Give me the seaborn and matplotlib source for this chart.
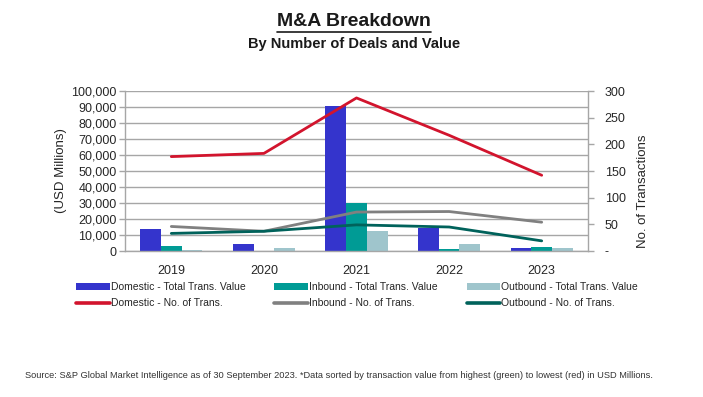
"""M&A breakdown: deal value bars (left axis) and deal counts (right axis)."""

import matplotlib
matplotlib.use("Agg")
import matplotlib.pyplot as plt
import matplotlib.ticker as mticker
from matplotlib.lines import Line2D
import numpy as np
import pandas as pd
import seaborn as sns

YEARS = ["2019", "2020", "2021", "2022", "2023"]
VALUE_SERIES = [
    "Domestic - Total Trans. Value",
    "Inbound - Total Trans. Value",
    "Outbound - Total Trans. Value",
]
COUNT_SERIES = [
    "Domestic - No. of Trans.",
    "Inbound - No. of Trans.",
    "Outbound - No. of Trans.",
]

# USD millions
DOMESTIC_VALUE = [13600, 4600, 90500, 14100, 2000]
INBOUND_VALUE = [3400, 0, 29800, 1100, 2300]
OUTBOUND_VALUE = [500, 1900, 12600, 4400, 1700]

# number of transactions
DOMESTIC_COUNT = [177, 183, 287, 217, 142]
INBOUND_COUNT = [46, 37, 73, 74, 54]
OUTBOUND_COUNT = [33, 37, 49, 45, 19]

BAR_COLOURS = ["#3434CC", "#009B95", "#9FC5CC"]
LINE_COLOURS = ["#D2142D", "#808080", "#00625B"]
GRID = "#A6A6A6"

sns.set_style("white")
plt.rcParams["font.family"] = ["Liberation Sans", "DejaVu Sans"]

values = pd.DataFrame({
    "year": YEARS * 3,
    "series": np.repeat(VALUE_SERIES, len(YEARS)),
    "value": DOMESTIC_VALUE + INBOUND_VALUE + OUTBOUND_VALUE,
})
counts = pd.DataFrame({
    "pos": list(range(len(YEARS))) * 3,
    "series": np.repeat(COUNT_SERIES, len(YEARS)),
    "count": DOMESTIC_COUNT + INBOUND_COUNT + OUTBOUND_COUNT,
})

fig = plt.figure(figsize=(7.03, 3.97), dpi=100)
ax = fig.add_axes([125 / 703, 1 - 251 / 397, (588 - 125) / 703, 160 / 397])

sns.barplot(data=values, x="year", y="value", hue="series", hue_order=VALUE_SERIES,
            palette=BAR_COLOURS, width=0.67, gap=0, saturation=1, ax=ax,
            edgecolor="none", linewidth=0, zorder=2)
ax.set_ylim(0, 100000)
ax.set_xlim(-0.5, len(YEARS) - 0.5)
ax.set_yticks(np.arange(0, 100001, 10000))
ax.yaxis.set_major_formatter(mticker.FuncFormatter(lambda v, _: f"{v:,.0f}"))
ax.yaxis.grid(True, color=GRID, lw=1.0)
ax.set_axisbelow(True)

# category boundaries get the tick marks, centres get the labels
ax.set_xticks(np.arange(-0.5, len(YEARS), 1.0))
ax.set_xticklabels([])
ax.set_xticks(np.arange(len(YEARS)), minor=True)
ax.set_xticklabels(YEARS, minor=True)
ax.tick_params(axis="x", which="major", length=5, color=GRID, width=1)
ax.tick_params(axis="x", which="minor", length=0, pad=10, labelsize=9)
ax.tick_params(axis="y", length=4, color=GRID, width=1, labelsize=9, pad=2)
ax.set_xlabel("")
ax.set_ylabel("(USD Millions)", fontsize=9.5, labelpad=3)

for side in ["top", "right"]:
    ax.spines[side].set_visible(False)
for side in ["left", "bottom"]:
    ax.spines[side].set_color(GRID)
    ax.spines[side].set_linewidth(1)

ax2 = ax.twinx()
sns.lineplot(data=counts, x="pos", y="count", hue="series", hue_order=COUNT_SERIES,
             palette=LINE_COLOURS, lw=2.0, ax=ax2)
ax2.set_ylim(0, 300)
ax2.set_xlim(-0.5, len(YEARS) - 0.5)
ax2.set_yticks(np.arange(0, 301, 50))
ax2.yaxis.set_major_formatter(mticker.FuncFormatter(lambda v, _: "-" if v == 0 else f"{v:.0f}"))
ax2.tick_params(axis="y", length=4, color=GRID, width=1, labelsize=9, pad=8)
ax2.set_ylabel("No. of Transactions", fontsize=9.5)
ax2.yaxis.set_label_coords(1.105, 0.375)
for side in ["top", "left", "bottom"]:
    ax2.spines[side].set_visible(False)
ax2.spines["right"].set_color(GRID)
ax2.spines["right"].set_linewidth(1)

bar_handles, bar_labels = ax.get_legend_handles_labels()
ax.get_legend().remove()
ax2.get_legend().remove()
line_handles = [Line2D([], [], color=c, lw=2.6) for c in LINE_COLOURS]

handles, labels = [], []
for bh, bl, lh, ll in zip(bar_handles, bar_labels, line_handles, COUNT_SERIES):
    handles += [bh, lh]
    labels += [bl, ll]
fig.legend(handles, labels, ncol=3, loc="upper left", bbox_to_anchor=(72 / 703, 1 - 278 / 397),
           frameon=False, fontsize=7.5, handlelength=3.2, handleheight=0.55, handletextpad=0.1,
           columnspacing=2.8, labelspacing=0.6, borderaxespad=0)

title = fig.text(0.503, 1 - 22 / 397, "M&A Breakdown", ha="center", va="center",
                 fontsize=14, fontweight="bold", color="#1A1A1A")
fig.text(0.503, 1 - 44 / 397, "By Number of Deals and Value", ha="center", va="center",
         fontsize=10.5, fontweight="bold", color="#1A1A1A")
fig.text(25 / 703, 1 - 375 / 397,
         "Source: S&P Global Market Intelligence as of 30 September 2023. *Data sorted by "
         "transaction value from highest (green) to lowest (red) in USD Millions.",
         ha="left", va="center", fontsize=6.7, color="#333333")

# underline the title
fig.canvas.draw()
bb = title.get_window_extent().transformed(fig.transFigure.inverted())
fig.add_artist(Line2D([bb.x0, bb.x1], [bb.y0 - 0.004, bb.y0 - 0.004],
                      transform=fig.transFigure, color="#1A1A1A", lw=1.2))

fig.savefig("out.png", dpi=100)
plt.close(fig)
